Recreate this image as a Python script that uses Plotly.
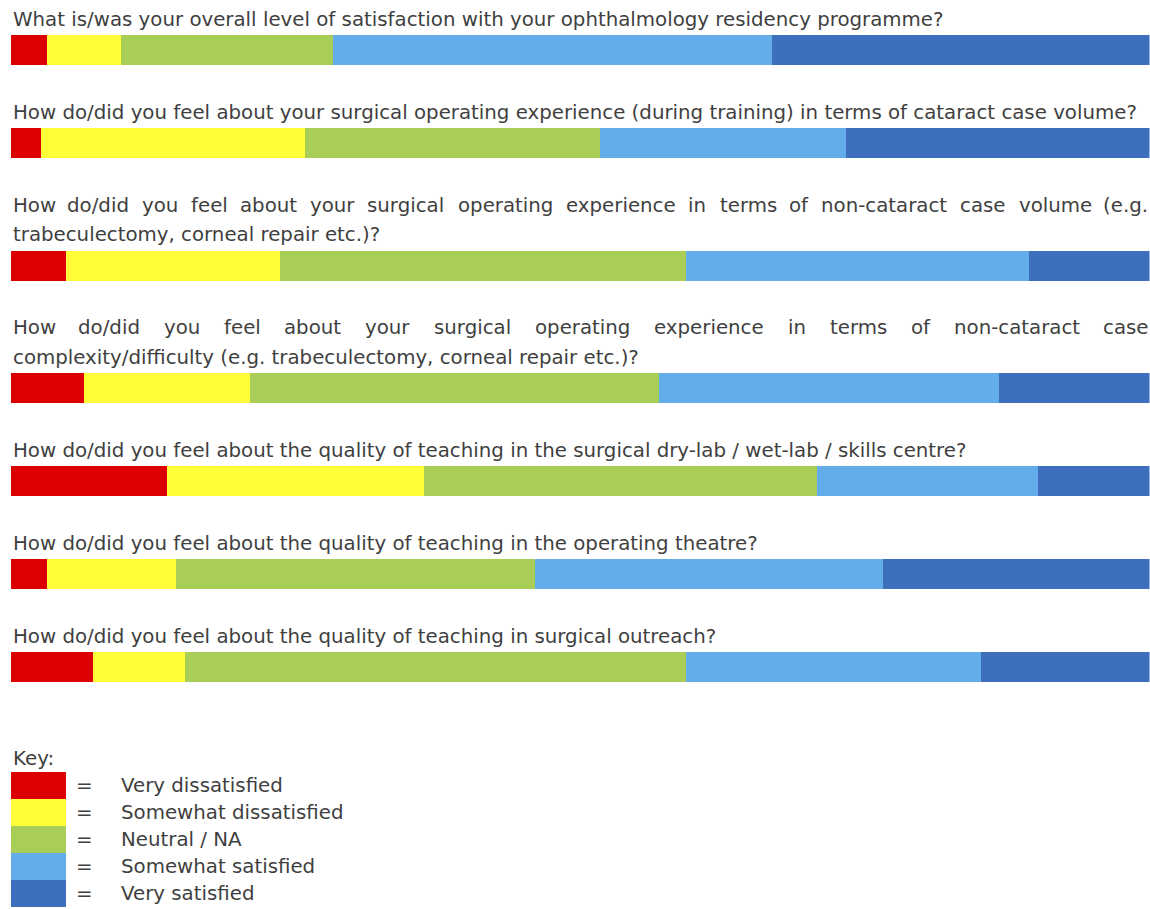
import plotly.graph_objects as go

# ---------------- data ----------------
questions = [
    ["What is/was your overall level of satisfaction with your ophthalmology residency programme?"],
    ["How do/did you feel about your surgical operating experience (during training) in terms of cataract case volume?"],
    ["How do/did you feel about your surgical operating experience in terms of non-cataract case volume (e.g.",
     "trabeculectomy, corneal repair etc.)?"],
    ["How do/did you feel about your surgical operating experience in terms of non-cataract case",
     "complexity/difficulty (e.g. trabeculectomy, corneal repair etc.)?"],
    ["How do/did you feel about the quality of teaching in the surgical dry-lab / wet-lab / skills centre?"],
    ["How do/did you feel about the quality of teaching in the operating theatre?"],
    ["How do/did you feel about the quality of teaching in surgical outreach?"],
]
justified = [False, False, True, True, False, False, False]

categories = ["Very dissatisfied", "Somewhat dissatisfied", "Neutral / NA",
              "Somewhat satisfied", "Very satisfied"]

very_dissatisfied     = [3.2, 2.6, 4.8, 6.4, 13.7, 3.2, 7.2]
somewhat_dissatisfied = [6.5, 23.2, 18.8, 14.6, 22.6, 11.3, 8.1]
neutral_na            = [18.6, 25.9, 35.7, 35.9, 34.5, 31.5, 44.0]
somewhat_satisfied    = [38.5, 21.6, 30.1, 29.9, 19.4, 30.6, 25.9]
very_satisfied        = [33.2, 26.7, 10.6, 13.2, 9.8, 23.4, 14.8]

series = [very_dissatisfied, somewhat_dissatisfied, neutral_na,
          somewhat_satisfied, very_satisfied]

# ---------------- style ----------------
colors = ["#DD0000", "#FFFC38", "#A8CE58", "#63AEEA", "#3E6FBD"]
FONT = "DejaVu Sans"
FS = 19.8
TXT = "#3f3f3f"
W, H = 1150, 909
LEFT, RIGHT = 11, 1149.5
BAR_H = 30
LINE_GAP = 29.5
BASE_TO_BAR = 9
BAR_TO_NEXT = 54

# approximate DejaVu Sans advance widths (em)
CW = dict(a=.613, b=.635, c=.550, d=.635, e=.615, f=.352, g=.635, h=.634, i=.278,
          j=.278, k=.579, l=.278, m=.974, n=.634, o=.612, p=.635, q=.635, r=.411,
          s=.521, t=.392, u=.634, v=.592, w=.818, x=.592, y=.592, z=.525)
CW.update({"H": .752, "T": .611, "W": .989, "/": .337, "(": .390, ")": .390,
           ".": .318, "-": .361, ",": .318, "?": .531})


def text_w(s):
    return sum(CW.get(ch, .6) for ch in s) * FS


def text_y(baseline):
    # centre of the text box relative to its baseline
    return baseline - 0.34 * FS


def px(x):
    return x / W


fig = go.Figure()
annotations = []
font = dict(family=FONT, size=FS, color=TXT)

baseline = 26
bar_centres = []
for qi, lines in enumerate(questions):
    for li, line in enumerate(lines):
        yb = baseline + li * LINE_GAP
        if justified[qi] and li == 0:
            words = line.split(" ")
            ws = [text_w(w_) for w_ in words]
            gap = (RIGHT - LEFT - sum(ws)) / (len(words) - 1)
            xpos = LEFT
            for wi, (wd, wl) in enumerate(zip(words, ws)):
                if wi == 0:
                    x, anc = LEFT, "left"
                elif wi == len(words) - 1:
                    x, anc = RIGHT, "right"
                else:
                    x, anc = xpos + wl / 2, "center"
                annotations.append(dict(x=px(x), y=text_y(yb), xref="paper", yref="y",
                                        text=wd, showarrow=False, xanchor=anc,
                                        yanchor="middle", font=font))
                xpos += wl + gap
        else:
            annotations.append(dict(x=px(LEFT), y=text_y(yb), xref="paper", yref="y",
                                    text=line, showarrow=False, xanchor="left",
                                    yanchor="middle", font=font))
    last_base = baseline + (len(lines) - 1) * LINE_GAP
    top = last_base + BASE_TO_BAR
    bar_centres.append(top + BAR_H / 2)
    baseline = top + BAR_H + BAR_TO_NEXT

for name, vals, col in zip(categories, series, colors):
    fig.add_trace(go.Bar(
        x=vals, y=bar_centres, orientation="h", width=BAR_H, name=name,
        marker=dict(color=col, line=dict(width=0)),
        xaxis="x", yaxis="y", showlegend=False, hoverinfo="x+name"))

# ---------------- key ----------------
key_base = 765
annotations.append(dict(x=px(LEFT), y=text_y(key_base), xref="paper", yref="y",
                        text="Key:", showarrow=False, xanchor="left",
                        yanchor="middle", font=font))
KEY_H = 27
key_top = 772
key_centres = [key_top + KEY_H * (i + 0.5) for i in range(len(categories))]
fig.add_trace(go.Bar(
    x=[55] * len(categories), base=[LEFT] * len(categories), y=key_centres,
    orientation="h", width=KEY_H, marker=dict(color=colors, line=dict(width=0)),
    xaxis="x2", yaxis="y", showlegend=False, hoverinfo="skip"))
for yc, lab in zip(key_centres, categories):
    annotations.append(dict(x=px(84), y=yc, xref="paper", yref="y", text="=",
                            showarrow=False, xanchor="center", yanchor="middle",
                            font=font))
    annotations.append(dict(x=px(119), y=yc, xref="paper", yref="y", text=lab,
                            showarrow=False, xanchor="left", yanchor="middle",
                            font=font))

fig.update_layout(
    width=W, height=H, margin=dict(l=0, r=0, t=0, b=0),
    paper_bgcolor="white", plot_bgcolor="rgba(0,0,0,0)",
    barmode="stack", bargap=0,
    xaxis=dict(domain=[LEFT / W, RIGHT / W], range=[0, 100], visible=False,
               fixedrange=True),
    xaxis2=dict(domain=[0, 1], range=[0, W], anchor="y", visible=False,
                fixedrange=True),
    yaxis=dict(domain=[0, 1], range=[H, 0], visible=False, fixedrange=True),
    annotations=annotations,
)

fig.write_html("out.html", config={"displayModeBar": False},
               post_script="document.body.style.margin='0';"
                           "document.body.style.overflow='hidden';")
